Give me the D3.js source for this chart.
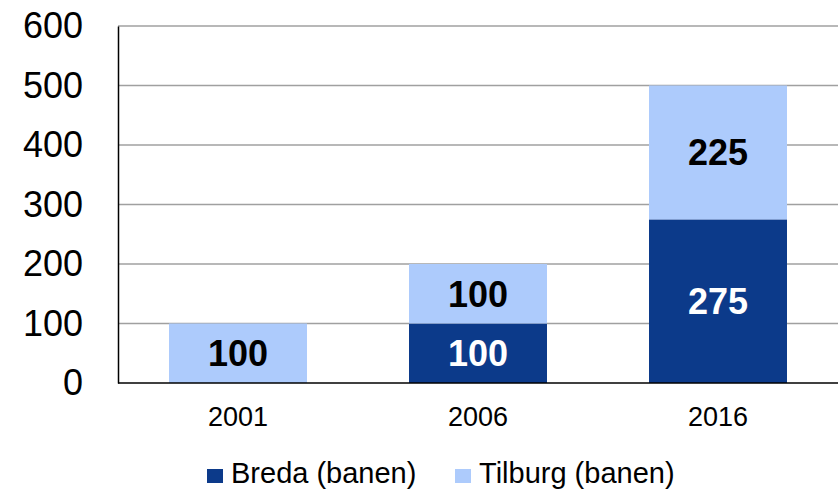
<!DOCTYPE html>
<html>
<head>
<meta charset="utf-8">
<script src="https://cdn.jsdelivr.net/npm/d3@7"></script>
<style>
  body { margin: 0; background: #fff; }
  text { font-family: "Liberation Sans", Arial, sans-serif; }
</style>
</head>
<body>
<svg id="chart" width="838" height="489"></svg>
<script>
const jaren = ["2001", "2006", "2016"];
const breda = [0, 100, 275];
const tilburg = [100, 100, 225];
const reeksen = ["Breda (banen)", "Tilburg (banen)"];
const yTicks = [0, 100, 200, 300, 400, 500, 600];

const kleuren = ["#0c3a8a", "#adcbfc"];

const svg = d3.select("#chart");
const mLinks = 118, mRechts = 838, mBoven = 26, mOnder = 383;

const x = d3.scaleBand().domain(jaren).range([mLinks, mRechts]).paddingInner(0.425).paddingOuter(0.2125);
const y = d3.scaleLinear().domain([0, 600]).range([mOnder, mBoven]);

// rasterlijnen
svg.append("g")
  .selectAll("line")
  .data(yTicks.filter((t) => t > 0))
  .enter()
  .append("line")
  .attr("x1", mLinks)
  .attr("x2", mRechts)
  .attr("y1", (d) => y(d))
  .attr("y2", (d) => y(d))
  .attr("stroke", "#a0a0a0")
  .attr("stroke-width", 1.5);

// gestapelde data
const rijen = jaren.map((j, i) => ({ jaar: j, breda: breda[i], tilburg: tilburg[i] }));
const stack = d3.stack().keys(["breda", "tilburg"])(rijen);

const lagen = svg.selectAll(".laag")
  .data(stack)
  .enter()
  .append("g")
  .attr("class", "laag")
  .attr("fill", (d, i) => kleuren[i]);

lagen.selectAll("rect")
  .data((d) => d)
  .enter()
  .append("rect")
  .attr("x", (d) => x(d.data.jaar))
  .attr("width", x.bandwidth())
  .attr("y", (d) => y(d[1]))
  .attr("height", (d) => y(d[0]) - y(d[1]));

// waardelabels
stack.forEach((laag, li) => {
  svg.append("g")
    .selectAll("text")
    .data(laag.filter((d) => d[1] - d[0] > 0))
    .enter()
    .append("text")
    .attr("x", (d) => x(d.data.jaar) + x.bandwidth() / 2)
    .attr("y", (d) => (y(d[0]) + y(d[1])) / 2)
    .attr("dy", "0.36em")
    .attr("text-anchor", "middle")
    .attr("font-size", 36)
    .attr("font-weight", "bold")
    .attr("fill", li === 0 ? "#fff" : "#000")
    .text((d) => d[1] - d[0]);
});

// assen
const yAxis = d3.axisLeft(y).tickValues(yTicks).tickSize(0).tickPadding(35);
const gy = svg.append("g").attr("transform", `translate(${mLinks},0)`).call(yAxis);
gy.select(".domain").attr("stroke", "#000").attr("stroke-width", 1.5);
gy.selectAll("text").attr("font-size", 36).attr("fill", "#000").attr("font-family", "Liberation Sans, Arial, sans-serif");

const xAxis = d3.axisBottom(x).tickSize(0).tickPadding(24);
const gx = svg.append("g").attr("transform", `translate(0,${mOnder})`).call(xAxis);
gx.select(".domain").attr("d", `M${mLinks},0H${mRechts}`).attr("stroke", "#000").attr("stroke-width", 1.5);
gx.selectAll("text").attr("font-size", 27).attr("fill", "#000").attr("font-family", "Liberation Sans, Arial, sans-serif");

// legenda
const legenda = svg.append("g").attr("transform", "translate(207,483)");
const posities = [0, 248];
reeksen.forEach((naam, i) => {
  const g = legenda.append("g").attr("transform", `translate(${posities[i]},0)`);
  g.append("rect").attr("x", 0).attr("y", -14).attr("width", 16).attr("height", 14).attr("fill", kleuren[i]);
  g.append("text").attr("x", 24).attr("font-size", 29).attr("fill", "#000").text(naam);
});
</script>
</body>
</html>
